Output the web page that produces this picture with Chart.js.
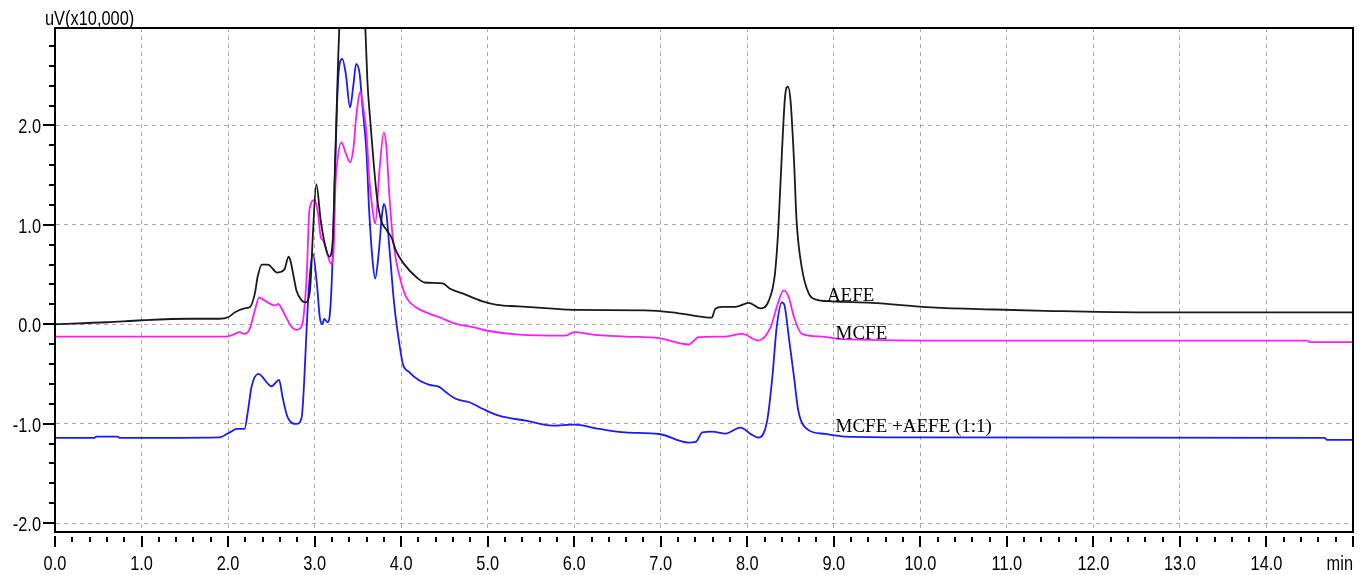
<!DOCTYPE html>
<html>
<head>
<meta charset="utf-8">
<script src="https://cdn.jsdelivr.net/npm/chart.js@4.4.1/dist/chart.umd.min.js"></script>
<style>
  html, body { margin: 0; padding: 0; background: #fff; }
</style>
</head>
<body>
<canvas id="myChart" width="1369" height="575"></canvas>
<script>
// retention time (min) and signal (uV x10,000)
const aefeTime   = [0, 0.6, 1.0, 1.55, 1.9, 2.0, 2.08, 2.19, 2.25, 2.31, 2.34, 2.39, 2.46, 2.57, 2.65, 2.70, 2.72, 2.76, 2.79, 2.85, 2.90, 2.93, 2.95, 2.98, 3.02, 3.07, 3.12, 3.17, 3.21, 3.24, 3.27, 3.29, 3.35, 3.45, 3.55, 3.59, 3.61, 3.64, 3.68, 3.72, 3.77, 3.83, 3.89, 3.94, 4.03, 4.18, 4.27, 4.48, 4.56, 4.71, 4.94, 5.11, 5.36, 5.71, 6.0, 6.82, 7.13, 7.52, 7.59, 7.63, 7.71, 7.86, 8.02, 8.15, 8.25, 8.32, 8.36, 8.40, 8.44, 8.47, 8.50, 8.54, 8.57, 8.63, 8.71, 8.79, 8.97, 9.44, 10.13, 10.86, 11.44, 12.5, 15.0];
const aefeSignal = [0.0, 0.02, 0.04, 0.055, 0.055, 0.07, 0.12, 0.16, 0.17, 0.31, 0.47, 0.60, 0.60, 0.52, 0.55, 0.68, 0.64, 0.47, 0.34, 0.24, 0.22, 0.26, 0.37, 0.90, 1.41, 1.05, 0.80, 0.68, 0.85, 1.72, 2.60, 3.10, 3.80, 4.00, 3.60, 2.90, 2.45, 2.08, 1.65, 1.28, 1.04, 0.95, 0.87, 0.74, 0.61, 0.47, 0.42, 0.41, 0.36, 0.31, 0.23, 0.195, 0.18, 0.16, 0.145, 0.14, 0.12, 0.07, 0.067, 0.155, 0.175, 0.175, 0.215, 0.16, 0.24, 0.51, 0.98, 1.72, 2.32, 2.39, 2.25, 1.65, 1.04, 0.57, 0.31, 0.25, 0.23, 0.215, 0.17, 0.148, 0.135, 0.12, 0.12];

const mcfeTime   = [0, 1.98, 2.08, 2.13, 2.19, 2.25, 2.31, 2.36, 2.42, 2.50, 2.55, 2.58, 2.62, 2.68, 2.73, 2.79, 2.84, 2.87, 2.91, 2.94, 3.00, 3.04, 3.07, 3.10, 3.15, 3.19, 3.22, 3.24, 3.26, 3.31, 3.36, 3.41, 3.45, 3.48, 3.53, 3.56, 3.60, 3.63, 3.67, 3.70, 3.75, 3.80, 3.83, 3.86, 3.90, 3.94, 4.00, 4.06, 4.17, 4.33, 4.44, 4.63, 4.83, 4.98, 5.36, 5.90, 6.0, 6.21, 6.59, 6.98, 7.32, 7.44, 7.75, 7.94, 8.13, 8.27, 8.34, 8.42, 8.48, 8.54, 8.63, 8.86, 9.05, 10.25, 14.47, 14.5, 15.0];
const mcfeSignal = [-0.124, -0.124, -0.097, -0.08, -0.097, -0.046, 0.14, 0.27, 0.24, 0.20, 0.19, 0.205, 0.155, 0.054, -0.023, -0.057, -0.036, 0.06, 0.51, 1.15, 1.25, 1.11, 0.88, 0.84, 0.70, 0.61, 0.74, 1.38, 1.62, 1.83, 1.72, 1.63, 1.78, 2.08, 2.34, 2.19, 1.92, 1.48, 1.15, 1.01, 1.55, 1.93, 1.78, 1.35, 0.90, 0.65, 0.42, 0.27, 0.17, 0.105, 0.07, 0.004, -0.03, -0.063, -0.104, -0.114, -0.08, -0.104, -0.124, -0.14, -0.204, -0.13, -0.124, -0.097, -0.164, -0.03, 0.17, 0.34, 0.27, 0.07, -0.097, -0.124, -0.147, -0.164, -0.164, -0.18, -0.18];

const mixTime    = [0, 0.45, 0.48, 0.72, 0.75, 1.9, 2.02, 2.10, 2.19, 2.23, 2.27, 2.35, 2.50, 2.59, 2.63, 2.69, 2.79, 2.85, 2.88, 2.91, 2.94, 2.98, 3.03, 3.06, 3.09, 3.11, 3.15, 3.18, 3.21, 3.23, 3.26, 3.28, 3.32, 3.36, 3.41, 3.45, 3.48, 3.52, 3.55, 3.60, 3.63, 3.67, 3.70, 3.74, 3.78, 3.80, 3.83, 3.87, 3.92, 3.98, 4.02, 4.09, 4.21, 4.33, 4.44, 4.52, 4.63, 4.79, 4.94, 5.13, 5.44, 5.75, 6.0, 6.29, 6.59, 6.98, 7.32, 7.41, 7.48, 7.59, 7.75, 7.92, 8.05, 8.13, 8.23, 8.29, 8.34, 8.40, 8.43, 8.48, 8.54, 8.59, 8.67, 8.90, 9.13, 10.02, 14.67, 14.70, 15.0];
const mixSignal  = [-1.144, -1.144, -1.13, -1.13, -1.144, -1.138, -1.088, -1.053, -1.053, -0.87, -0.634, -0.50, -0.624, -0.56, -0.735, -0.94, -1.003, -0.94, -0.57, 0.0, 0.44, 0.71, 0.37, 0.07, 0.0, 0.054, 0.02, 0.14, 0.71, 1.38, 2.22, 2.55, 2.67, 2.52, 2.18, 2.42, 2.62, 2.52, 2.22, 1.72, 1.15, 0.64, 0.46, 0.71, 1.11, 1.21, 1.11, 0.71, 0.20, -0.20, -0.40, -0.48, -0.567, -0.61, -0.63, -0.685, -0.75, -0.785, -0.85, -0.92, -0.97, -1.02, -1.01, -1.053, -1.088, -1.104, -1.19, -1.18, -1.088, -1.08, -1.10, -1.04, -1.11, -1.14, -0.97, -0.53, -0.03, 0.22, 0.19, -0.13, -0.53, -0.87, -1.04, -1.104, -1.13, -1.138, -1.144, -1.164, -1.164];

const xTickValues = [0, 1, 2, 3, 4, 5, 6, 7, 8, 9, 10, 11, 12, 13, 14, 15];
const xTickLabels = ['0.0', '1.0', '2.0', '3.0', '4.0', '5.0', '6.0', '7.0', '8.0', '9.0', '10.0', '11.0', '12.0', '13.0', '14.0', ''];
const xUnitLabel = 'min';
const yTickValues = [-2, -1, 0, 1, 2];
const yTickLabels = ['-2.0', '-1.0', '0.0', '1.0', '2.0'];
const yUnitLabel = 'uV(x10,000)';

const traceLabels = ['AEFE', 'MCFE', 'MCFE +AEFE (1:1)'];

function zip(t, v) {
  return t.map((x, i) => ({ x: x, y: v[i] }));
}

const axisFont = "21px 'Liberation Sans', Arial, sans-serif";
const noteFont = "19px 'Liberation Serif', 'Times New Roman', serif";
const squeeze = 0.78; // the instrument printout uses a narrow sans face

function narrowText(ctx, str, px, py, align) {
  ctx.save();
  ctx.translate(px, py);
  ctx.scale(squeeze, 1);
  ctx.textAlign = align;
  ctx.fillText(str, 0, 0);
  ctx.restore();
}

// frame, tick marks, tick labels, unit labels and the trace names
const extras = {
  id: 'extras',
  afterDraw(chart) {
    const { ctx, chartArea: a, scales: { x, y } } = chart;
    ctx.save();
    ctx.strokeStyle = '#000';
    ctx.lineWidth = 2;
    ctx.strokeRect(a.left, a.top, a.right - a.left, a.bottom - a.top);

    for (let i = 0; i <= 75; i++) {
      const px = Math.round(x.getPixelForValue(i / 5));
      const major = i % 5 === 0;
      ctx.beginPath();
      ctx.moveTo(px, a.bottom + (major ? 4 : 5));
      ctx.lineTo(px, a.bottom + (major ? 15 : 10));
      ctx.stroke();
    }
    for (let i = -10; i <= 14; i++) {
      const py = Math.round(y.getPixelForValue(i / 5));
      const major = i % 5 === 0;
      ctx.beginPath();
      ctx.moveTo(a.left - (major ? 12 : 6), py);
      ctx.lineTo(a.left, py);
      ctx.stroke();
    }

    ctx.fillStyle = '#000';
    ctx.font = axisFont;
    ctx.textBaseline = 'alphabetic';
    xTickValues.forEach((v, i) => {
      narrowText(ctx, xTickLabels[i], x.getPixelForValue(v), a.bottom + 38, 'center');
    });
    yTickValues.forEach((v, i) => {
      narrowText(ctx, yTickLabels[i], a.left - 14, y.getPixelForValue(v) + 8, 'right');
    });
    narrowText(ctx, yUnitLabel, 45, 25, 'left');
    narrowText(ctx, xUnitLabel, a.right, a.bottom + 38, 'right');

    ctx.font = noteFont;
    ctx.textAlign = 'left';
    ctx.fillText(traceLabels[0], x.getPixelForValue(8.92), y.getPixelForValue(0.23));
    ctx.fillText(traceLabels[1], x.getPixelForValue(9.02), y.getPixelForValue(-0.147));
    ctx.fillText(traceLabels[2], x.getPixelForValue(9.02), y.getPixelForValue(-1.08));
    ctx.restore();
  }
};

const ctx = document.getElementById('myChart');

new Chart(ctx, {
  type: 'line',
  data: {
    datasets: [
      { label: traceLabels[0], data: zip(aefeTime, aefeSignal), borderColor: '#1a1a1a' },
      { label: traceLabels[1], data: zip(mcfeTime, mcfeSignal), borderColor: '#ff1aff' },
      { label: traceLabels[2], data: zip(mixTime, mixSignal), borderColor: '#1a1aff' }
    ]
  },
  options: {
    responsive: false,
    animation: false,
    datasets: {
      line: { borderWidth: 1.8, pointRadius: 0, fill: false, cubicInterpolationMode: 'monotone' }
    },
    layout: { padding: { top: 28, right: 16, left: 0, bottom: 0 } },
    plugins: { legend: { display: false }, tooltip: { enabled: false }, title: { display: false } },
    scales: {
      x: {
        type: 'linear',
        min: 0,
        max: 15,
        afterBuildTicks: s => { s.ticks = xTickValues.map(v => ({ value: v })); },
        afterFit: s => { s.height = 43; },
        ticks: { display: false },
        grid: { color: '#ababab', lineWidth: 1, drawTicks: false },
        border: { color: '#000', width: 2, dash: [4, 4] }
      },
      y: {
        type: 'linear',
        min: -2.09,
        max: 2.98,
        afterBuildTicks: s => { s.ticks = yTickValues.map(v => ({ value: v })); },
        afterFit: s => { s.width = 55; },
        ticks: { display: false },
        grid: { color: '#ababab', lineWidth: 1, drawTicks: false },
        border: { color: '#000', width: 2, dash: [4, 4] }
      }
    }
  },
  plugins: [extras]
});
</script>
</body>
</html>
